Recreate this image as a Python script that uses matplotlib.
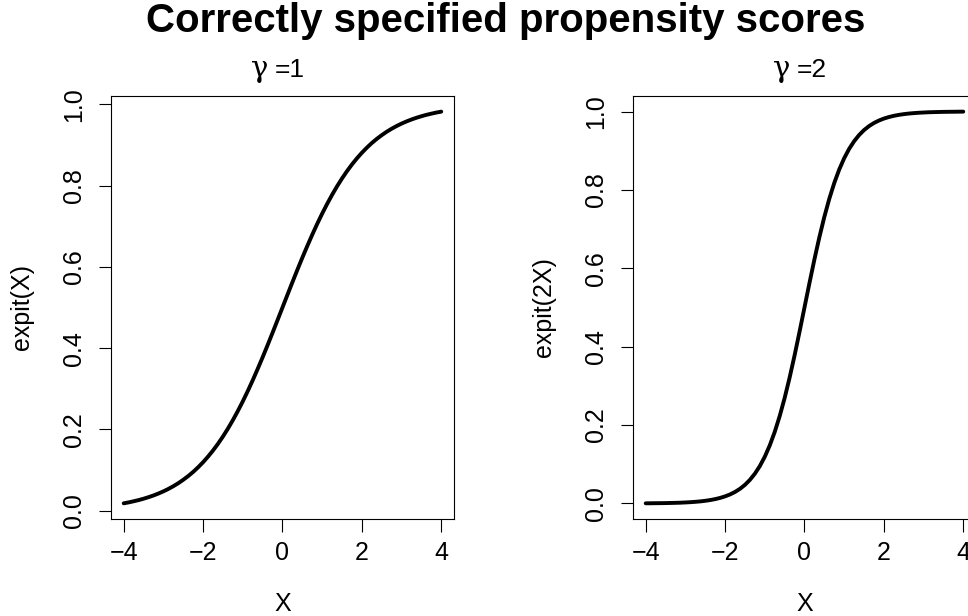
import matplotlib.pyplot as plt

plt.rcParams['font.family'] = ['Liberation Sans', 'DejaVu Sans']

# values
x = [-4, -3.875, -3.75, -3.625, -3.5, -3.375, -3.25, -3.125, -3, -2.875, -2.75, -2.625, -2.5,
     -2.375, -2.25, -2.125, -2, -1.875, -1.75, -1.625, -1.5, -1.375, -1.25, -1.125, -1,
     -0.875, -0.75, -0.625, -0.5, -0.375, -0.25, -0.125, 0,
     0.125, 0.25, 0.375, 0.5, 0.625, 0.75, 0.875, 1, 1.125, 1.25, 1.375, 1.5, 1.625, 1.75,
     1.875, 2, 2.125, 2.25, 2.375, 2.5, 2.625, 2.75, 2.875, 3, 3.125, 3.25, 3.375, 3.5,
     3.625, 3.75, 3.875, 4]
p_gamma1 = [0.0180, 0.0203, 0.0230, 0.0259, 0.0293, 0.0331, 0.0373, 0.0421, 0.0474, 0.0534,
            0.0601, 0.0675, 0.0759, 0.0851, 0.0953, 0.1067, 0.1192, 0.1330, 0.1480, 0.1645,
            0.1824, 0.2018, 0.2227, 0.2451, 0.2689, 0.2942, 0.3208, 0.3487, 0.3775, 0.4073,
            0.4378, 0.4688, 0.5000,
            0.5312, 0.5622, 0.5927, 0.6225, 0.6513, 0.6792, 0.7058, 0.7311, 0.7549, 0.7773,
            0.7982, 0.8176, 0.8355, 0.8520, 0.8670, 0.8808, 0.8933, 0.9047, 0.9149, 0.9241,
            0.9325, 0.9399, 0.9466, 0.9526, 0.9579, 0.9627, 0.9669, 0.9707, 0.9741, 0.9770,
            0.9797, 0.9820]
p_gamma2 = [0.0003, 0.0004, 0.0006, 0.0007, 0.0009, 0.0012, 0.0015, 0.0019, 0.0025, 0.0032,
            0.0041, 0.0052, 0.0067, 0.0086, 0.0110, 0.0141, 0.0180, 0.0230, 0.0293, 0.0373,
            0.0474, 0.0601, 0.0759, 0.0953, 0.1192, 0.1480, 0.1824, 0.2227, 0.2689, 0.3208,
            0.3775, 0.4378, 0.5000,
            0.5622, 0.6225, 0.6792, 0.7311, 0.7773, 0.8176, 0.8520, 0.8808, 0.9047, 0.9241,
            0.9399, 0.9526, 0.9627, 0.9707, 0.9770, 0.9820, 0.9859, 0.9890, 0.9914, 0.9933,
            0.9948, 0.9959, 0.9968, 0.9975, 0.9981, 0.9985, 0.9988, 0.9991, 0.9993, 0.9994,
            0.9996, 0.9997]

panels = [("=1", "expit(X)", p_gamma1), ("=2", "expit(2X)", p_gamma2)]
x_ticks = [-4, -2, 0, 2, 4]
y_ticks = [0.0, 0.2, 0.4, 0.6, 0.8, 1.0]

fig = plt.figure(figsize=(9.68, 6.16), dpi=100)
fig.text(0.522, 1 - 32 / 616, "Correctly specified propensity scores",
         ha='center', va='baseline', fontsize=29, fontweight='bold')

lefts = [111 / 968, 633 / 968]
for left, (sub, ylab, y) in zip(lefts, panels):
    ax = fig.add_axes([left, 0.1575, 0.3543, 0.6867])
    ax.plot(x, y, color='black', lw=2.8, solid_capstyle='round')
    ext_y = 0.04 * (max(y) - min(y))
    ax.set_xlim(-4.32, 4.32)
    ax.set_ylim(min(y) - ext_y, max(y) + ext_y)
    ax.set_xticks(x_ticks)
    ax.set_yticks(y_ticks)
    ax.set_yticklabels([f"{v:.1f}" for v in y_ticks], rotation=90, va='center')
    ax.tick_params(direction='out', length=9, width=0.8, labelsize=18)
    ax.tick_params(axis='x', pad=7)
    ax.tick_params(axis='y', pad=9)
    for s in ax.spines.values():
        s.set_linewidth(0.8)
    ax.set_xlabel("X", fontsize=18, va='center')
    ax.set_ylabel(ylab, fontsize=18, va='center')
    ax.xaxis.set_label_coords(0.5, -0.201)
    ax.yaxis.set_label_coords(-0.259, 0.5)
    # gamma drawn in a serif face, like the symbol font of the original
    ax.text(0.408, 1.045, "γ", transform=ax.transAxes, ha='left', va='baseline',
            fontsize=21, family=['DejaVu Serif'])
    ax.text(0.478, 1.045, sub, transform=ax.transAxes, ha='left', va='baseline', fontsize=19)

fig.savefig("out.png", dpi=100)
